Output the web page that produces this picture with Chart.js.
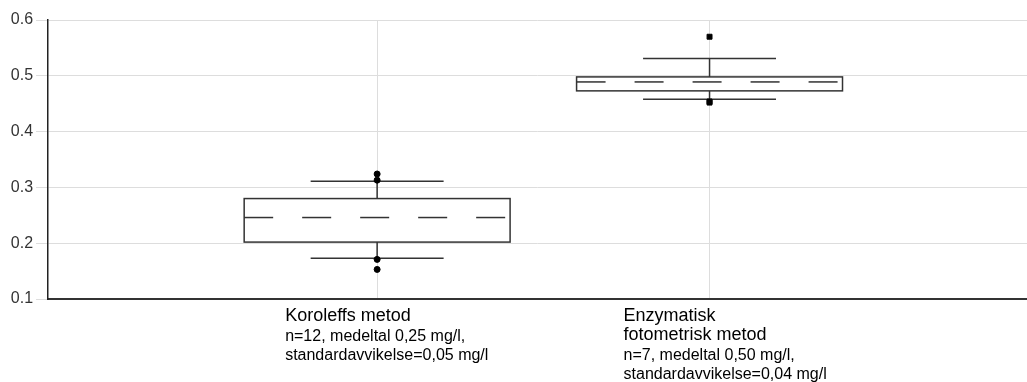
<!DOCTYPE html>
<html>
<head>
<meta charset="utf-8">
<script src="https://cdn.jsdelivr.net/npm/chart.js@4/dist/chart.umd.min.js"></script>
<style>
  html, body { margin: 0; padding: 0; background: #fff; overflow: hidden; }
  canvas { display: block; }
</style>
</head>
<body>
<canvas id="boxChart" width="1027" height="382"></canvas>
<script>
// data
const categoryTitles = [['Koroleffs metod'], ['Enzymatisk', 'fotometrisk metod']];
const categoryNotes = [
    ['n=12, medeltal 0,25 mg/l,', 'standardavvikelse=0,05 mg/l'],
    ['n=7, medeltal 0,50 mg/l,', 'standardavvikelse=0,04 mg/l']
];
const whiskerLow = [0.173, 0.458];
const q1 = [0.202, 0.473];
const median = [0.246, 0.489];
const q3 = [0.280, 0.498];
const whiskerHigh = [0.311, 0.531];
const outliers = [[0.324, 0.313, 0.171, 0.153], [0.570, 0.454, 0.452]];
const yTicks = [0.1, 0.2, 0.3, 0.4, 0.5, 0.6];

const FONT = "'Liberation Sans', Arial, sans-serif";
const LINE = '#333';

// outliers as scatter points, x = category position (1, 2)
const outlierPoints = [];
outliers.forEach((vals, i) => vals.forEach(v => outlierPoints.push({ x: i + 1, y: v })));

// boxes, whiskers and category labels drawn with the chart's scales
const boxPlugin = {
    id: 'boxes',
    beforeDatasetsDraw(chart) {
        const { ctx, scales: { x, y } } = chart;
        ctx.save();
        ctx.strokeStyle = LINE;
        ctx.lineWidth = 1.5;
        q1.forEach((_, i) => {
            const c = i + 1;
            const bl = x.getPixelForValue(c - 0.4), br = x.getPixelForValue(c + 0.4);
            const cl = x.getPixelForValue(c - 0.2), cr = x.getPixelForValue(c + 0.2);
            const cx = x.getPixelForValue(c);
            const top = y.getPixelForValue(q3[i]), bot = y.getPixelForValue(q1[i]);
            const hi = y.getPixelForValue(whiskerHigh[i]), lo = y.getPixelForValue(whiskerLow[i]);
            // whiskers
            ctx.beginPath();
            ctx.moveTo(cx, top); ctx.lineTo(cx, hi);
            ctx.moveTo(cx, bot); ctx.lineTo(cx, lo);
            ctx.moveTo(cl, hi); ctx.lineTo(cr, hi);
            ctx.moveTo(cl, lo); ctx.lineTo(cr, lo);
            ctx.stroke();
            // box
            ctx.fillStyle = '#fff';
            ctx.fillRect(bl, top, br - bl, bot - top);
            ctx.strokeRect(bl, top, br - bl, bot - top);
            // dashed median
            ctx.save();
            ctx.setLineDash([29, 29]);
            ctx.beginPath();
            const my = y.getPixelForValue(median[i]);
            ctx.moveTo(bl, my); ctx.lineTo(br, my);
            ctx.stroke();
            ctx.restore();
        });
        ctx.restore();
    },
    afterDraw(chart) {
        const { ctx, chartArea, scales: { x } } = chart;
        const offsets = [-92, -86];
        ctx.save();
        ctx.fillStyle = '#000';
        ctx.textAlign = 'left';
        ctx.textBaseline = 'alphabetic';
        categoryTitles.forEach((lines, i) => {
            const lx = x.getPixelForValue(i + 1) + offsets[i];
            let by = chartArea.bottom + 22;
            ctx.font = '18px ' + FONT;
            lines.forEach((t, k) => { if (k) by += 19; ctx.fillText(t, lx, by); });
            by += 20;
            ctx.font = '16px ' + FONT;
            categoryNotes[i].forEach((t, k) => { if (k) by += 19; ctx.fillText(t, lx, by); });
        });
        ctx.restore();
    }
};

new Chart(document.getElementById('boxChart'), {
    type: 'scatter',
    data: {
        datasets: [{
            data: outlierPoints,
            backgroundColor: '#000',
            borderColor: '#000',
            pointStyle: c => (c.raw && c.raw.x === 2 ? 'rect' : 'circle'),
            pointRadius: c => (c.raw && c.raw.x === 2 ? 3.5 : 3),
            pointHoverRadius: 3
        }]
    },
    options: {
        responsive: false,
        animation: false,
        layout: { autoPadding: false, padding: { top: 20, right: 0, bottom: 83, left: 7.8 } },
        plugins: { legend: { display: false }, tooltip: { enabled: false } },
        scales: {
            x: {
                type: 'linear',
                min: 0.01,
                max: 2.955,
                afterBuildTicks: s => { s.ticks = [{ value: 1 }, { value: 2 }]; },
                ticks: { display: false },
                grid: { color: '#ddd', lineWidth: 1, drawTicks: false },
                border: { color: '#333', width: 2 }
            },
            y: {
                min: 0.1,
                max: 0.6,
                afterBuildTicks: s => { s.ticks = yTicks.map(v => ({ value: v })); },
                ticks: {
                    color: '#333',
                    font: { family: FONT, size: 16 },
                    padding: 3,
                    callback: v => v.toFixed(1)
                },
                grid: { color: '#ddd', lineWidth: 1, tickLength: 12 },
                border: { color: '#222', width: 1.5 }
            }
        }
    },
    plugins: [boxPlugin]
});
</script>
</body>
</html>
